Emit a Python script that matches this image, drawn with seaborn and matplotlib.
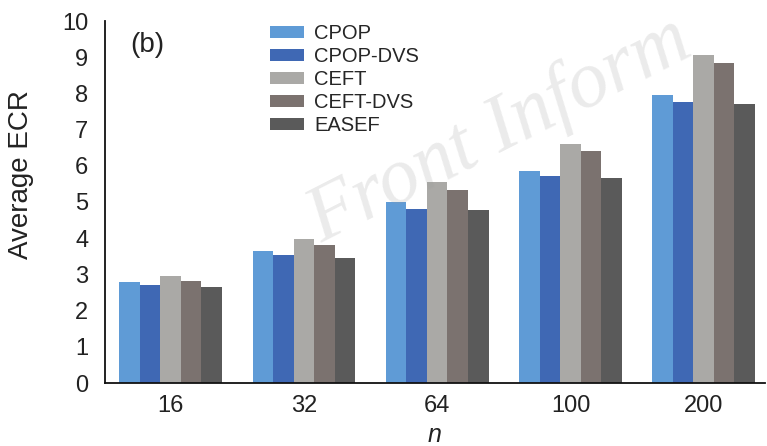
import matplotlib
matplotlib.use("Agg")
import matplotlib.pyplot as plt
import seaborn as sns
import pandas as pd

# Average ECR per task-graph size n, for each scheduling algorithm
sizes = ["16", "32", "64", "100", "200"]
algorithms = ["CPOP", "CPOP-DVS", "CEFT", "CEFT-DVS", "EASEF"]
cpop = [2.79, 3.66, 4.99, 5.86, 7.95]
cpop_dvs = [2.70, 3.53, 4.81, 5.71, 7.75]
ceft = [2.95, 3.97, 5.55, 6.60, 9.06]
ceft_dvs = [2.83, 3.81, 5.34, 6.40, 8.83]
easef = [2.64, 3.45, 4.77, 5.66, 7.70]
colors = ["#5f9bd6", "#3f68b4", "#aaa9a6", "#7b726f", "#5a5a5a"]

series = [cpop, cpop_dvs, ceft, ceft_dvs, easef]
df = pd.DataFrame(
    [(n, alg, v) for alg, vals in zip(algorithms, series) for n, v in zip(sizes, vals)],
    columns=["n", "algorithm", "ecr"],
)

sns.set_theme(style="white")
plt.rcParams["font.family"] = ["Liberation Sans", "DejaVu Sans"]

fig = plt.figure(figsize=(7.67, 4.46), dpi=100)
ax = fig.add_axes([105 / 767, 63 / 446, 660 / 767, 362 / 446])

sns.barplot(
    data=df, x="n", y="ecr", hue="algorithm", order=sizes, hue_order=algorithms,
    palette=colors, width=0.77, gap=0, saturation=1, linewidth=0, ax=ax,
)

ax.set_ylim(0, 10)
ax.set_xlim(-0.493, 4.46)
ax.set_yticks(range(0, 11))
ax.tick_params(axis="y", direction="in", length=5, width=1.2, labelsize=17, pad=12)
ax.tick_params(axis="x", length=0, labelsize=17, pad=9)
for lbl in ax.get_xticklabels() + ax.get_yticklabels():
    lbl.set_color("#222222")
for side in ("top", "right"):
    ax.spines[side].set_visible(False)
for side in ("left", "bottom"):
    ax.spines[side].set_color("#111111")
    ax.spines[side].set_linewidth(1.3)

ax.set_ylabel("Average ECR", fontsize=20, color="#222222")
ax.yaxis.set_label_coords(-0.108, 0.575)
ax.set_xlabel("n", fontsize=18, style="italic", color="#222222", labelpad=4)
ax.text(0.038, 0.934, "(b)", transform=ax.transAxes, fontsize=20, color="#222222",
        ha="left", va="center")

handles, labels = ax.get_legend_handles_labels()
ax.legend(
    handles, labels, loc="upper left", bbox_to_anchor=(270 / 767, 1 - 24 / 446),
    bbox_transform=fig.transFigure, frameon=False, fontsize=14.5,
    handlelength=1.7, handleheight=0.55, handletextpad=0.5, labelspacing=0.2,
    borderpad=0, borderaxespad=0,
)

# journal watermark
fig.text(322 / 767, 1 - 244 / 446, "Front Inform", fontsize=58,
         family=["Liberation Serif", "DejaVu Serif"], style="italic",
         color="#9a9a9a", alpha=0.2, rotation=27, rotation_mode="anchor",
         ha="left", va="baseline", zorder=10)

fig.savefig("out.png", dpi=100)
